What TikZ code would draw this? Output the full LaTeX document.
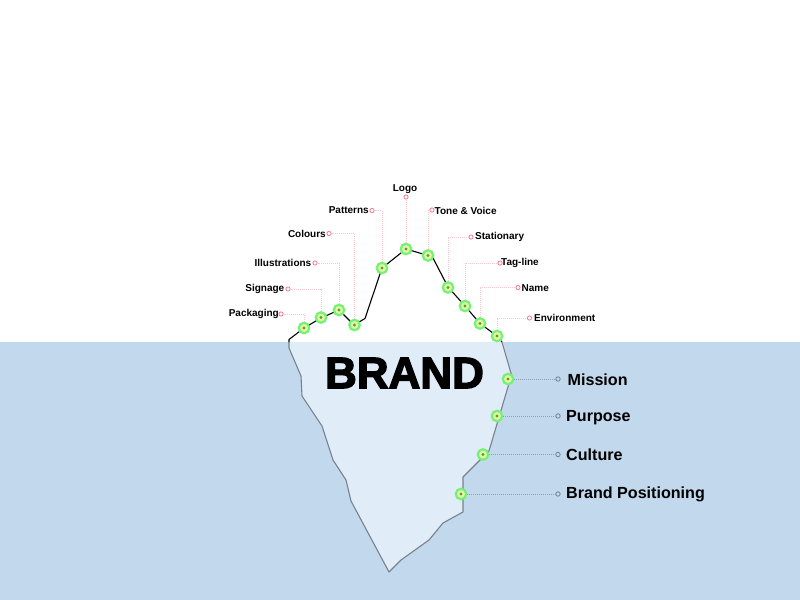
\documentclass[tikz,border=0pt]{standalone}
\usepackage{fontspec}
\setmainfont{Liberation Sans}
\newfontfamily\brandfont[FakeBold=3]{Liberation Sans Bold}
\newfontfamily\labfont{Liberation Sans Bold}
\definecolor{water}{HTML}{C2D8EC}
\definecolor{ice}{HTML}{E0ECF7}
\definecolor{ringgreen}{HTML}{74F274}
\definecolor{ringin}{HTML}{E4F7A8}
\definecolor{coredot}{HTML}{5E9A3A}
\definecolor{pinkline}{HTML}{FFC4CC}
\definecolor{pinkend}{HTML}{F27A8C}
\definecolor{greyline}{HTML}{8F9DAC}
\definecolor{outlinegrey}{HTML}{78828C}
\tikzset{
  x=1bp,y=-1bp,
  spot/.style={circle,draw=ringgreen,line width=2.2bp,fill=ringin,minimum size=10.5bp,inner sep=0pt,
    path picture={\fill[coredot] (path picture bounding box.center) circle[radius=1.6bp];}},
  upend/.style={circle,draw=pinkend,line width=0.8bp,fill=white,minimum size=4.2bp,inner sep=0pt},
  lowend/.style={circle,draw=outlinegrey,line width=0.8bp,fill=water,minimum size=4.4bp,inner sep=0pt},
  uplink/.style={draw=pinkline,line width=1bp,dash pattern=on 1bp off 1bp},
  lowlink/.style={draw=greyline,line width=1bp,dash pattern=on 1bp off 1bp},
  toplabel/.style={inner sep=0pt,font=\labfont\fontsize{10bp}{12bp}\selectfont,text=black},
  sublabel/.style={inner sep=0pt,anchor=west,font=\labfont\fontsize{16.1bp}{18bp}\selectfont,text=black},
}
\begin{document}
\begin{tikzpicture}
\useasboundingbox (0,0) rectangle (800,600);
\fill[white] (0,0) rectangle (800,600);
\fill[water] (0,342) rectangle (800,600);
% underwater ice
\fill[ice] (289,342) -- (503,342) -- (511.5,375) -- (489,451) -- (463,477) -- (463,512) -- (443,523) -- (429,540) -- (401,560) -- (389,572) -- (351,501) -- (346,480) -- (333,460) -- (322,426) -- (302,396) -- (301,376) -- (289,348) -- cycle;
\draw[outlinegrey,line width=1.1bp,line join=round] (502,342) -- (511.5,375) -- (489,451) -- (463,477) -- (463,512) -- (443,523) -- (429,540) -- (401,560) -- (389,572) -- (351,501) -- (346,480) -- (333,460) -- (322,426) -- (302,396) -- (301,376) -- (289,348) -- (289,342);
\draw[black,line width=1.1bp,line join=round] (289,342) -- (289,339.5) -- (304,328) -- (321,318) -- (339,310) -- (354,325) -- (365,318.5) -- (382,268) -- (406,249) -- (428,255.5) -- (433,258) -- (448,287) -- (465,306) -- (480,323.5) -- (497,336) -- (502,342);
% spots
\node[spot] (d1) at (304,328) {};
\node[spot] (d2) at (321,317.5) {};
\node[spot] (d3) at (339,310) {};
\node[spot] (d4) at (354.5,325) {};
\node[spot] (d5) at (382,268) {};
\node[spot] (d6) at (406,249) {};
\node[spot] (d7) at (428,255.5) {};
\node[spot] (d8) at (448,287.5) {};
\node[spot] (d9) at (465,306) {};
\node[spot] (d10) at (480,323.5) {};
\node[spot] (d11) at (497,336) {};
\node[spot] (d12) at (508,379) {};
\node[spot] (d13) at (497,416) {};
\node[spot] (d14) at (483,454.5) {};
\node[spot] (d15) at (461,494) {};
% ends
\node[upend] (e1) at (281,314) {};
\node[upend] (e2) at (288,289) {};
\node[upend] (e3) at (315,263) {};
\node[upend] (e4) at (329,233.5) {};
\node[upend] (e5) at (372,210.5) {};
\node[upend] (e6) at (406,197) {};
\node[upend] (e7) at (432,210) {};
\node[upend] (e8) at (471,237) {};
\node[upend] (e9) at (500,263) {};
\node[upend] (e10) at (518,287.5) {};
\node[upend] (e11) at (529.5,318) {};
\node[lowend] (e12) at (558,379) {};
\node[lowend] (e13) at (558,416) {};
\node[lowend] (e14) at (558,454.5) {};
\node[lowend] (e15) at (558,494) {};
% connectors
\foreach \n in {1,2,3,4,5,7,8,9,10,11}{\draw[uplink] (d\n) |- (e\n);}
\draw[uplink] (d6) -- (e6);
\foreach \n in {12,13,14,15}{\draw[lowlink] (d\n) -- (e\n);}
% labels
\node[toplabel,anchor=east] (l1) at (279,314) {Packaging};
\node[toplabel,anchor=east] (l2) at (284.5,288.5) {Signage};
\node[toplabel,anchor=east] (l3) at (311.5,262.5) {Illustrations};
\node[toplabel,anchor=east] (l4) at (326,233.5) {Colours};
\node[toplabel,anchor=east] (l5) at (369,210.5) {Patterns};
\node[toplabel] (l6) at (405,189.5) {Logo};
\node[toplabel,anchor=west] (l7) at (434.5,210.5) {Tone \& Voice};
\node[toplabel,anchor=west] (l8) at (475,237) {Stationary};
\node[toplabel,anchor=west] (l9) at (501,263) {Tag-line};
\node[toplabel,anchor=west] (l10) at (521.5,288) {Name};
\node[toplabel,anchor=west] (l11) at (534,318) {Environment};
\node[sublabel] (l12) at (567.5,380) {Mission};
\node[sublabel] (l13) at (566,418) {Purpose};
\node[sublabel] (l14) at (566,455) {Culture};
\node[sublabel] (l15) at (566,494) {Brand Positioning};
\node[inner sep=0pt,font=\brandfont\fontsize{44bp}{46bp}\selectfont] (brand) at (404.5,373) {BRAND};
\end{tikzpicture}
\end{document}
